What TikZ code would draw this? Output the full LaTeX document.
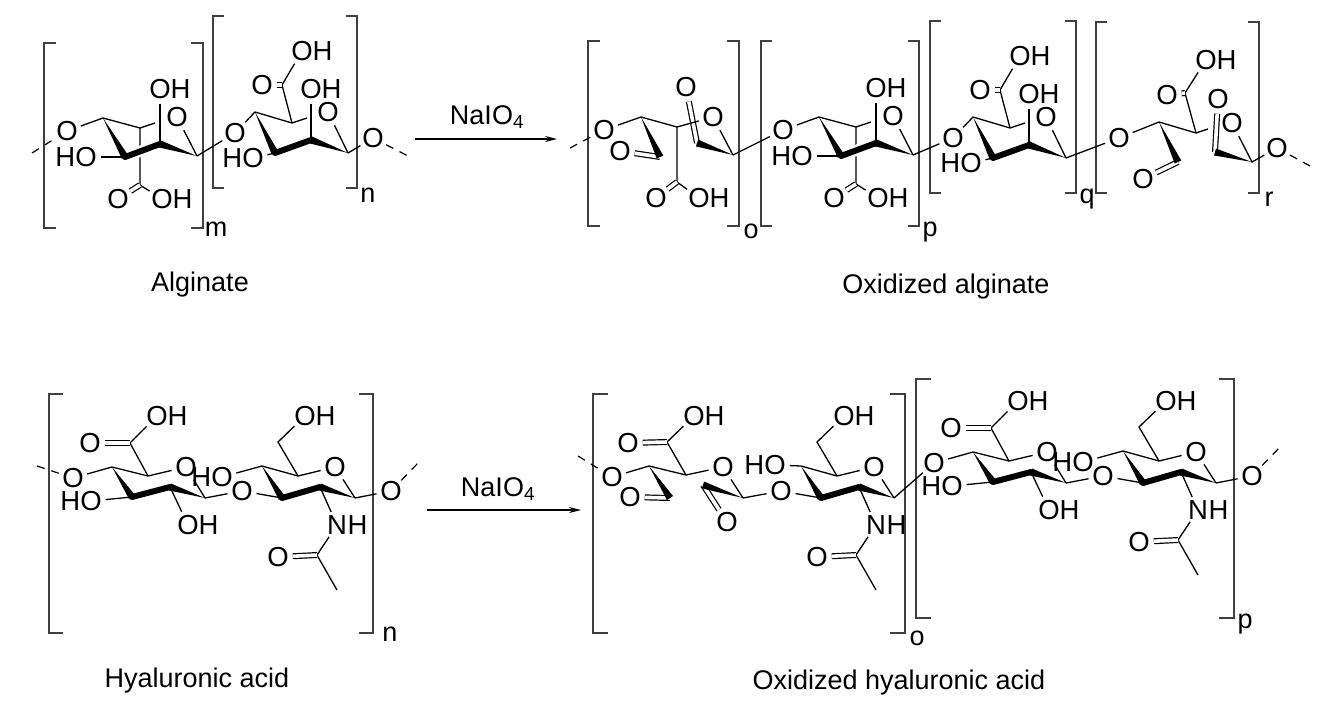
\documentclass[tikz,border=0pt]{standalone}
\usepackage{fontspec}
\setmainfont{Liberation Sans}
\usetikzlibrary{arrows.meta}
\usetikzlibrary{calc}

\newcommand{\atomfont}{\fontsize{27.5}{28}\selectfont}
\tikzset{
  atom/.style={circle, inner sep=0pt, minimum size=28pt, text height=19.8pt, text depth=0pt, font=\atomfont},
  lbl/.style={inner sep=0pt, font=\fontsize{27}{28}\selectfont},
  bond/.style={black, line width=1.3pt},
  dblbond/.style={black, line width=1.2pt, double=white, double distance=3.6pt},
  dashbond/.style={black, line width=1.2pt, dash pattern=on 8pt off 7pt},
  thickbond/.style={black, line width=6pt, line cap=round},
  halo/.style={white, line width=11pt},
  bracket/.style={black!75, line width=1.6pt},
  rxn/.style={black, line width=1.1pt, -{Stealth[length=12pt,width=6pt]}}
}
% atoms with an H beside them
\newcommand{\atomOH}[2]{\node[atom] (#1) at (#2) {O}; \node[atom] (#1h) at ([xshift=20.6pt]#1.center) {H};}
\newcommand{\atomHO}[2]{\node[atom] (#1) at (#2) {O}; \node[atom] (#1h) at ([xshift=-20.6pt]#1.center) {H};}
\newcommand{\wedgebond}[2]{\fill[black] (#1) -- ($(#2)!3.6pt!90:(#1)$) -- ($(#2)!3.6pt!-90:(#1)$) -- cycle;}
% left x, right x, top y, bottom y, tick
\newcommand{\bracketpair}[5]{%
\draw[bracket] (#1,#3) ++(#5,0) -- ++(-#5,0) -- (#1,#4) -- ++(#5,0);
\draw[bracket] (#2,#3) ++(-#5,0) -- ++(#5,0) -- (#2,#4) -- ++(-#5,0);}

% shift, prefix
\newcommand{\unitMan}[2]{%
\begin{scope}[shift={(#1)}, name prefix=#2-]
\node[atom] (o4) at (67,131) {O};
\coordinate (c4) at (103,118);
\coordinate (c5) at (140,128);
\coordinate (stub) at (155,123);
\coordinate (c3) at (125,157);
\coordinate (c2) at (160,144);
\coordinate (c1) at (197,156);
\coordinate (c6) at (140,185);
\node[atom] (o5) at (177,117) {O};
\node[atom] (o6) at (118,199) {O};
\atomOH{oh2}{160,89}
\atomHO{oh3}{86,157}
\atomOH{oh6}{162,199}
\draw[bond] (o4) -- (c4) -- (c5) -- (stub);
\draw[bond] (c5) -- (c6) -- (oh6);
\draw[dblbond] (c6) -- (o6);
\draw[bond] (c2) -- (oh2);
\draw[bond] (c3) -- (oh3);
\draw[bond] (o5) -- (c1);
\draw[halo] (c3) -- (c2);
\draw[thickbond] (c3) -- (c2);
\wedgebond{c4}{c3}
\wedgebond{c1}{c2}
\end{scope}}

\newcommand{\unitGul}[2]{%
\begin{scope}[shift={(#1)}, name prefix=#2-]
\node[atom] (o4) at (235,133) {O};
\coordinate (c4) at (255,112);
\coordinate (c5) at (292,123);
\coordinate (stub) at (307,118);
\coordinate (c3) at (275,153);
\coordinate (c2) at (311,140);
\coordinate (c1) at (348,153);
\coordinate (c6) at (282,85);
\node[atom] (o5) at (328,112) {O};
\node[atom] (o6) at (262,85) {O};
\atomOH{oh2}{311,89}
\atomHO{oh3}{253,158}
\atomOH{oh6}{302,51}
\draw[bond] (o4) -- (c4) -- (c5) -- (stub);
\draw[bond] (c5) -- (c6) -- (oh6);
\draw[dblbond] (c6) -- (o6);
\draw[bond] (c2) -- (oh2);
\draw[bond] (c3) -- (oh3);
\draw[bond] (o5) -- (c1);
\draw[thickbond] (c3) -- (c2);
\wedgebond{c4}{c3}
\wedgebond{c1}{c2}
\end{scope}}

\newcommand{\unitGlcA}[2]{%
\begin{scope}[shift={(#1)}, name prefix=#2-]
\node[atom] (o4) at (73,478) {O};
\coordinate (c4) at (112,467);
\coordinate (c5) at (148,476);
\coordinate (c3) at (132,497);
\coordinate (c2) at (170,487);
\coordinate (c1) at (205,498);
\coordinate (c6) at (130,443);
\node[atom] (o5) at (186,467) {O};
\node[atom] (o6) at (90,443) {O};
\atomOH{oh6}{157,416}
\atomHO{oh3}{91,501}
\atomOH{oh2}{188,525}
\draw[bond] (o4) -- (c4) -- (c5) -- (o5) -- (c1);
\draw[bond] (c5) -- (c6) -- (oh6);
\draw[dblbond] (c6) -- (o6);
\draw[bond] (c3) -- (oh3);
\draw[bond] (c2) -- (oh2);
\draw[thickbond] (c3) -- (c2);
\wedgebond{c4}{c3}
\wedgebond{c1}{c2}
\end{scope}}

% shift, prefix, place of the HO
\newcommand{\unitGlcN}[3]{%
\begin{scope}[shift={(#1)}, name prefix=#2-]
\node[atom] (o4) at (242,491) {O};
\coordinate (c4) at (262,466);
\coordinate (c5) at (298,476);
\coordinate (c3) at (282,498);
\coordinate (c2) at (320,487);
\coordinate (c1) at (355,498);
\coordinate (c6) at (278,442);
\coordinate (ac) at (317,555);
\coordinate (me) at (337,590);
\node[atom] (o5) at (335,467) {O};
\node[atom] (oac) at (278,557) {O};
\atomHO{oh4}{#3}
\atomOH{oh6}{305,416}
\node[atom] (nh) at (337,525) {N};
\node[atom] (nhh) at ([xshift=20.6pt]nh.center) {H};
\draw[bond] (o4) -- (c3);
\draw[bond] (oh4) -- (c4) -- (c5) -- (o5) -- (c1);
\draw[bond] (c5) -- (c6) -- (oh6);
\draw[bond] (c2) -- (nh) -- (ac) -- (me);
\draw[dblbond] (ac) -- (oac);
\draw[thickbond] (c3) -- (c2);
\wedgebond{c4}{c3}
\wedgebond{c1}{c2}
\end{scope}}

\begin{document}
\begin{tikzpicture}[x=1pt,y=-1pt]
\useasboundingbox (0,0) rectangle (1331,710);

% alginate
\bracketpair{44}{203}{43}{228}{12}
\bracketpair{213}{357}{16}{188}{11}
\coordinate (ad1) at (32,153);
\coordinate (ad2) at (408,156);
\unitMan{0,0}{am}
\unitGul{0,0}{ag}
\node[atom] (aoe) at (373,138) {O};
\draw[dashbond] (ad1) -- (am-o4);
\draw[bond] (am-c1) -- (ag-o4);
\draw[bond] (ag-c1) -- (aoe);
\draw[dashbond] (aoe) -- (ad2);
\node[lbl] (idxm) at (216,229) {m};
\node[lbl] (idxn) at (368,195) {n};
\node[lbl] (lblalg) at (200,285) {Alginate};

% first reaction
\coordinate (rs1) at (415,139);
\coordinate (re1) at (557,139);
\draw[rxn] (rs1) -- (re1);
\node[lbl] (naio1) at (487,117) {NaIO\textsubscript{4}};

% oxidized alginate
\bracketpair{588}{739}{41}{226}{12}
\bracketpair{761}{919}{41}{226}{11}
\bracketpair{930}{1076}{21}{193}{11}
\bracketpair{1096}{1259}{22}{193}{11}
\coordinate (xd1) at (570,148);
\coordinate (xd2) at (1312,167);
\node[atom] (xo4) at (604,130) {O};
\coordinate (xc4) at (641,117);
\coordinate (xc5) at (677,127);
\coordinate (xc3) at (660,157);
\coordinate (xc2) at (697,143);
\coordinate (xc1) at (733,155);
\coordinate (xc6) at (677,182);
\node[atom] (xo5) at (713,117) {O};
\node[atom] (xo3) at (620,151) {O};
\node[atom] (xo2) at (686,87) {O};
\node[atom] (xo6) at (656,198) {O};
\atomOH{xoh6}{699,198}
\draw[dblbond] (xc3) -- (xo3);
\draw[dblbond] (xc2) -- (xo2);
\draw[bond] (xo4) -- (xc4) -- (xc5) -- (xo5) -- (xc1);
\draw[bond] (xc5) -- (xc6) -- (xoh6);
\draw[dblbond] (xc6) -- (xo6);
\wedgebond{xc4}{xc3}
\wedgebond{xc1}{xc2}
\unitMan{716,-1}{xm}
\unitGul{718,5}{xg}
\draw[dashbond] (xd1) -- (xo4);
\draw[bond] (xc1) -- (xm-o4);
\draw[bond] (xm-c1) -- (xg-o4);
\node[atom] (ro4) at (1119,138) {O};
\coordinate (rc4) at (1159,122);
\coordinate (rc5) at (1196,133);
\coordinate (rstub) at (1208,129);
\coordinate (rc3) at (1178,162);
\coordinate (rc2) at (1215,152);
\coordinate (rc1) at (1252,162);
\coordinate (rc6) at (1185,93);
\node[atom] (ro5) at (1232,123) {O};
\node[atom] (ro3) at (1143,179) {O};
\node[atom] (ro2) at (1218,99) {O};
\node[atom] (ro6) at (1167,95) {O};
\atomOH{roh6}{1206,60}
\node[atom] (roe) at (1277,148) {O};
\draw[bond] (xg-c1) -- (ro4);
\draw[dblbond] (rc3) -- (ro3);
\draw[dblbond] (rc2) -- (ro2);
\draw[bond] (ro4) -- (rc4) -- (rc5) -- (rstub);
\draw[bond] (rc5) -- (rc6) -- (roh6);
\draw[dblbond] (rc6) -- (ro6);
\draw[bond] (ro5) -- (rc1) -- (roe);
\wedgebond{rc4}{rc3}
\wedgebond{rc1}{rc2}
\draw[dashbond] (roe) -- (xd2);
\node[lbl] (idxo) at (751,231) {o};
\node[lbl] (idxp) at (930,232) {p};
\node[lbl] (idxq) at (1087,199) {q};
\node[lbl] (idxr) at (1269,199) {r};
\node[lbl] (lbloxa) at (946,287) {Oxidized alginate};

% hyaluronic acid
\bracketpair{49}{373}{394}{633}{14}
\coordinate (hd1) at (37,466);
\coordinate (hd2) at (419,462);
\unitGlcA{0,0}{ha}
\unitGlcN{0,0}{hn}{222,477}
\node[atom] (hoe) at (391,491) {O};
\draw[dashbond] (hd1) -- (ha-o4);
\draw[bond] (ha-c1) -- (hn-o4);
\draw[bond] (hn-c1) -- (hoe);
\draw[dashbond] (hoe) -- (hd2);
\node[lbl] (idxhn) at (390,634) {n};
\node[lbl] (lblha) at (197,681) {Hyaluronic acid};

% second reaction
\coordinate (rs2) at (427,510);
\coordinate (re2) at (581,510);
\draw[rxn] (rs2) -- (re2);
\node[lbl] (naio2) at (498,489) {NaIO\textsubscript{4}};

% oxidized hyaluronic acid
\bracketpair{593}{905}{394}{633}{15}
\bracketpair{916}{1234}{379}{618}{15}
\coordinate (yd1) at (578,456);
\coordinate (yd2) at (1280,447);
\node[atom] (yo4) at (612,477) {O};
\coordinate (yc4) at (649,466);
\coordinate (yc5) at (686,475);
\coordinate (yc3) at (670,498);
\coordinate (yc2) at (703,485);
\coordinate (yc1) at (743,498);
\coordinate (yc6) at (667,442);
\node[atom] (yo5) at (723,467) {O};
\node[atom] (yo3) at (630,497) {O};
\node[atom] (yo2) at (727,522) {O};
\node[atom] (yo6) at (628,443) {O};
\atomOH{yoh6}{694,416}
\draw[dblbond] (yc3) -- (yo3);
\draw[dblbond] (yc2) -- (yo2);
\draw[bond] (yo4) -- (yc4) -- (yc5) -- (yo5) -- (yc1);
\draw[bond] (yc5) -- (yc6) -- (yoh6);
\draw[dblbond] (yc6) -- (yo6);
\wedgebond{yc4}{yc3}
\wedgebond{yc1}{yc2}
\unitGlcN{539,0}{yn}{236,465}
\unitGlcA{861,-15}{pa}
\unitGlcN{861,-15}{pn}{222,477}
\node[atom] (poe) at (1252,476) {O};
\draw[dashbond] (yd1) -- (yo4);
\draw[bond] (yc1) -- (yn-o4);
\draw[bond] (yn-c1) -- (pa-o4);
\draw[bond] (pa-c1) -- (pn-o4);
\draw[bond] (pn-c1) -- (poe);
\draw[dashbond] (poe) -- (yd2);
\node[lbl] (idxho) at (917,638) {o};
\node[lbl] (idxhp) at (1245,624) {p};
\node[lbl] (lbloxh) at (899,683) {Oxidized hyaluronic acid};
\end{tikzpicture}
\end{document}
